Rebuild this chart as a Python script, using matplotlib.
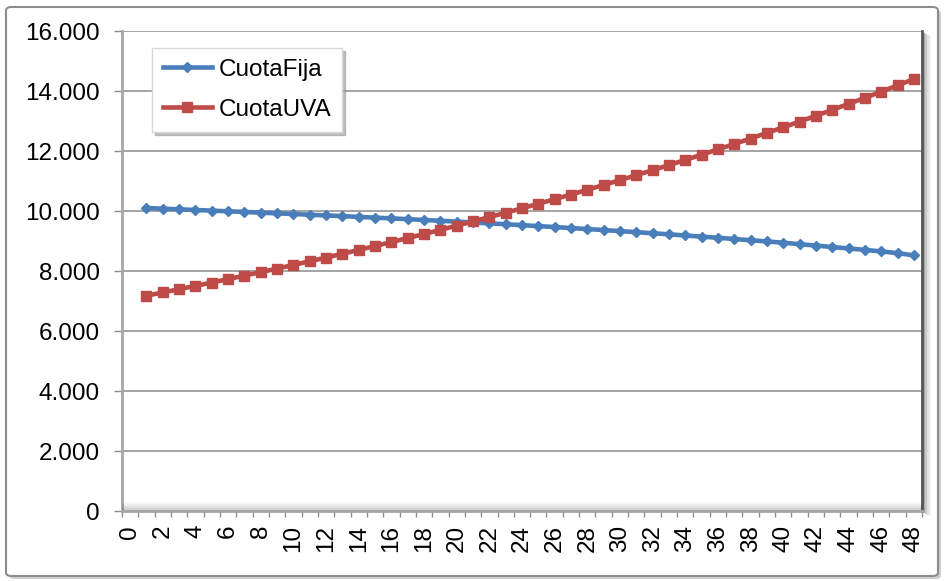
import matplotlib
matplotlib.use("Agg")
import matplotlib.pyplot as plt
from matplotlib.patches import FancyBboxPatch, Rectangle
import numpy as np

# ---- data ----
periods = list(range(1, 49))
cuota_fija = [10100, 10078, 10056, 10034, 10012, 9990, 9968, 9945, 9922, 9899,
              9876, 9853, 9829, 9804, 9779, 9754, 9728, 9701, 9674, 9646,
              9618, 9589, 9559, 9528, 9497, 9465, 9432, 9399, 9365, 9330,
              9295, 9259, 9222, 9184, 9146, 9107, 9067, 9026, 8985, 8943,
              8895, 8848, 8800, 8752, 8704, 8652, 8598, 8520]
cuota_uva = [7178, 7285, 7394, 7504, 7616, 7730, 7845, 7962, 8081, 8202,
             8324, 8448, 8574, 8702, 8832, 8964, 9098, 9233, 9371, 9511,
             9653, 9797, 9943, 10091, 10242, 10395, 10550, 10707, 10867, 11029,
             11194, 11361, 11530, 11702, 11877, 12054, 12234, 12416, 12602, 12790,
             12980, 13174, 13371, 13570, 13773, 13978, 14187, 14398]
series_names = ["CuotaFija", "CuotaUVA"]
y_ticks = list(range(0, 16001, 2000))
x_ticks = list(range(0, 49, 2))

plt.rcParams['font.family'] = ['Liberation Sans', 'DejaVu Sans']
FS = 17.5

W, H = 946, 581
fig = plt.figure(figsize=(W / 100, H / 100), dpi=100)
fig.patch.set_facecolor("white")

# outer chart border with shadow
shadow = FancyBboxPatch((9 / W, 2 / H), (W - 14) / W, (H - 12) / H,
                        boxstyle="round,pad=0,rounding_size=0.006",
                        transform=fig.transFigure, facecolor="#b0b0b0",
                        edgecolor="none", alpha=0.6, zorder=-3)
fig.patches.append(shadow)
frame = FancyBboxPatch((6 / W, 5 / H), (W - 14) / W, (H - 12) / H,
                       boxstyle="round,pad=0,rounding_size=0.006",
                       transform=fig.transFigure, facecolor="white",
                       edgecolor="#8c8c8c", linewidth=1.5, zorder=-2)
fig.patches.append(frame)

left, right, top, bottom = 122, 922, 31, 511
ax = fig.add_axes([left / W, 1 - bottom / H, (right - left) / W, (bottom - top) / H])

# plot-area shadow on the right
for i, a in enumerate([0.35, 0.22, 0.12, 0.06]):
    fig.patches.append(Rectangle(((right + 1 + i * 2) / W, (H - bottom - 2 - i) / H),
                                 2 / W, (bottom - top) / H,
                                 transform=fig.transFigure, facecolor="black",
                                 edgecolor="none", alpha=a, zorder=-1))
# plot-area shadow along the bottom (inside)
for i, a in enumerate([0.18, 0.12, 0.07, 0.03]):
    fig.patches.append(Rectangle((left / W, (H - bottom + 1 + i * 2) / H),
                                 (right - left) / W, 2 / H,
                                 transform=fig.transFigure, facecolor="black",
                                 edgecolor="none", alpha=a, zorder=1))
ax.set_facecolor("white")

ax.plot(periods, cuota_fija, color="#4A7EBB", lw=3.3, marker="D", ms=5.0,
        label=series_names[0], zorder=3)
ax.plot(periods, cuota_uva, color="#BE4B48", lw=3.3, marker="s", ms=7,
        label=series_names[1], zorder=3)

ax.set_xlim(-0.5, 48.5)
ax.set_ylim(0, 16000)
ax.set_yticks(y_ticks)
ax.set_yticklabels([f"{v:,}".replace(",", ".") for v in y_ticks], fontsize=FS)
ax.set_xticks(x_ticks)
ax.set_xticklabels([str(v) for v in x_ticks], rotation=90, fontsize=FS)
ax.set_xticks(np.arange(-0.5, 49, 1), minor=True)
ax.tick_params(axis="x", which="major", length=0, pad=10)
ax.tick_params(axis="x", which="minor", length=4.5, color="#8c8c8c", width=1)
ax.tick_params(axis="y", length=5.8, color="#8c8c8c", width=1, pad=10)

ax.yaxis.grid(True, color="#8c8c8c", lw=1.1)
ax.set_axisbelow(True)
for s in ["left", "bottom"]:
    ax.spines[s].set_color("#a6a6a6")
    ax.spines[s].set_linewidth(2)
ax.spines["top"].set_visible(False)
ax.spines["right"].set_color("#555555")
ax.spines["right"].set_linewidth(2)

leg = ax.legend(loc="upper left", bbox_to_anchor=(0.0375, 0.965), fontsize=FS,
                frameon=True, fancybox=False, shadow={'color': '#999999', 'alpha': 0.6},
                edgecolor="#d9d9d9", handlelength=2.0, handletextpad=0.3,
                labelspacing=0.75, borderpad=0.45, borderaxespad=0)
leg.get_frame().set_linewidth(1)

fig.savefig("out.png", dpi=100, facecolor="white")
